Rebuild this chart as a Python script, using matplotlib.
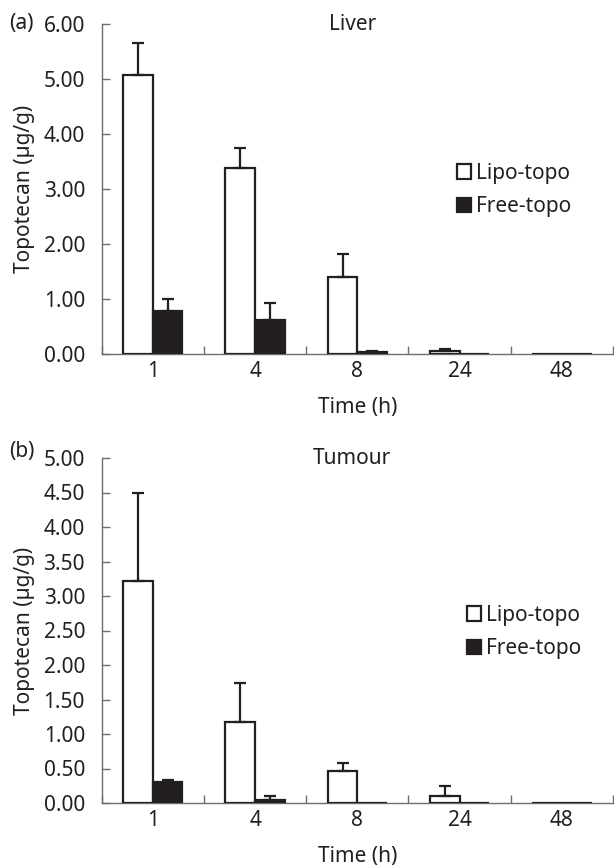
import matplotlib
matplotlib.use("Agg")
import matplotlib.pyplot as plt
import numpy as np
from matplotlib.ticker import FormatStrFormatter, FixedLocator

plt.rcParams['font.family'] = ['Noto Sans', 'DejaVu Sans']

times = ["1", "4", "8", "24", "48"]
series_names = ["Lipo-topo", "Free-topo"]

liver_lipo = [5.08, 3.39, 1.40, 0.06, 0.005]
liver_lipo_err = [0.58, 0.36, 0.42, 0.03, 0.0]
liver_free = [0.78, 0.62, 0.04, 0.005, 0.005]
liver_free_err = [0.22, 0.30, 0.01, 0.0, 0.0]

tumour_lipo = [3.22, 1.17, 0.47, 0.10, 0.005]
tumour_lipo_err = [1.28, 0.57, 0.11, 0.14, 0.0]
tumour_free = [0.30, 0.05, 0.005, 0.005, 0.005]
tumour_free_err = [0.04, 0.05, 0.0, 0.0, 0.0]

liver_yticks = [0, 1, 2, 3, 4, 5, 6]
tumour_yticks = [0, 0.5, 1, 1.5, 2, 2.5, 3, 3.5, 4, 4.5, 5]

INK = '#231f20'
SPINE = '#6d6d6d'
FS = 15

fig = plt.figure(figsize=(6.14, 8.66), dpi=100)
W, H = 614, 866
left = 101.7 / W
width = (613 - 101.7) / W

ax1 = fig.add_axes([left, 1 - 354 / H, width, (354 - 24) / H])
ax2 = fig.add_axes([left, 1 - 803 / H, width, (803 - 458) / H])

def draw(ax, lipo, lipo_err, free, free_err, yticks, ymax, title, leg_xy):
    n = len(times)
    x = np.arange(n) + 0.5
    bw = 0.29
    ax.bar(x - bw / 2, lipo, bw, color='white', edgecolor=INK, linewidth=1.6,
           label=series_names[0], zorder=3)
    ax.bar(x + bw / 2, free, bw, color=INK, edgecolor=INK, linewidth=1.6,
           label=series_names[1], zorder=3)
    for xs, m, e in ((x - bw / 2, lipo, lipo_err), (x + bw / 2, free, free_err)):
        m = np.array(m); e = np.array(e)
        sel = e > 0
        ax.errorbar(xs[sel], m[sel], yerr=[np.zeros(sel.sum()), e[sel]], fmt='none',
                    ecolor=INK, elinewidth=1.6, capsize=4, capthick=1.6, zorder=4)
    ax.set_xlim(0, n)
    ax.set_ylim(0, ymax)
    ax.spines['top'].set_visible(False)
    ax.spines['right'].set_visible(False)
    for s in ('left', 'bottom'):
        ax.spines[s].set_color(SPINE)
        ax.spines[s].set_linewidth(1.0)
    ax.set_yticks(yticks)
    ax.yaxis.set_major_formatter(FormatStrFormatter('%.2f'))
    ax.tick_params(axis='y', direction='in', length=6, width=1.0, color=SPINE,
                   labelsize=FS, labelcolor=INK, pad=12)
    ax.set_xticks(x)
    ax.set_xticklabels(times)
    ax.tick_params(axis='x', which='major', length=0, labelsize=FS, labelcolor=INK, pad=5)
    ax.xaxis.set_minor_locator(FixedLocator(np.arange(n + 1)))
    ax.tick_params(axis='x', which='minor', direction='in', length=6, width=1.0, color=SPINE)
    ax.set_xlabel('Time (h)', fontsize=FS, color=INK, labelpad=11)
    ax.set_ylabel('Topotecan (µg/g)', fontsize=FS, color=INK, labelpad=6)
    ax.text(0.49, 1.0, title, transform=ax.transAxes, ha='center', va='center',
            fontsize=FS, color=INK)
    leg = ax.legend(loc='upper left', bbox_to_anchor=leg_xy, frameon=False,
                    fontsize=FS, handlelength=0.65, handleheight=0.7,
                    handletextpad=0.25, labelspacing=0.6, borderaxespad=0, borderpad=0)
    for t in leg.get_texts():
        t.set_color(INK)

draw(ax1, liver_lipo, liver_lipo_err, liver_free, liver_free_err,
     liver_yticks, 6, 'Liver', (0.695, 0.58))
draw(ax2, tumour_lipo, tumour_lipo_err, tumour_free, tumour_free_err,
     tumour_yticks, 5, 'Tumour', (0.715, 0.575))

fig.text(9 / W, 1 - 24 / H, '(a)', fontsize=FS, color=INK, ha='left', va='center')
fig.text(9 / W, 1 - 452 / H, '(b)', fontsize=FS, color=INK, ha='left', va='center')

fig.savefig('out.png', dpi=100)
